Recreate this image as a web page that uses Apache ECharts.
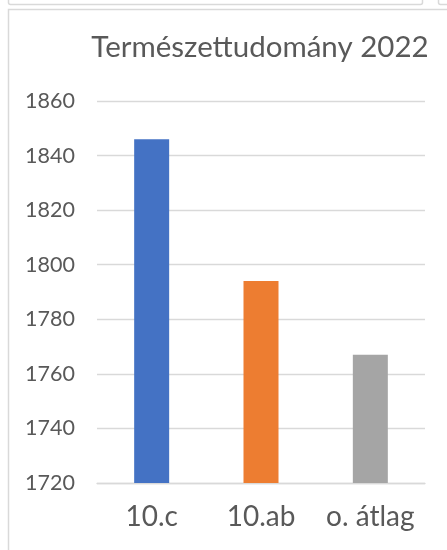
<!DOCTYPE html>
<html>
<head>
<meta charset="utf-8">
<script src="https://cdn.jsdelivr.net/npm/echarts@6/dist/echarts.min.js"></script>
<style>
html,body{margin:0;padding:0;background:#fff;}
#main{width:447px;height:550px;}
</style>
</head>
<body>
<div id="main"></div>
<script>
const categories = ['10.c', '10.ab', 'o. átlag'];
const values = [1846, 1794, 1767];
const barColors = ['#4472c4', '#ed7d31', '#a5a5a5'];
const yTicks = [1720, 1740, 1760, 1780, 1800, 1820, 1840, 1860];
const titleText = 'Természettudomány 2022';

const chart = echarts.init(document.getElementById('main'), null, {renderer: 'canvas'});
const font = 'Lato';
chart.setOption({
  backgroundColor: '#ffffff',
  animation: false,
  title: {
    text: titleText,
    left: 255,
    top: 27,
    textAlign: 'center',
    textStyle: {fontFamily: font, fontSize: 29.5, fontWeight: 'normal', color: '#595959'}
  },
  grid: {left: 97, right: 22, top: 101, bottom: 67, containLabel: false},
  xAxis: {
    type: 'category',
    data: categories,
    axisLine: {show: true, lineStyle: {color: '#d9d9d9', width: 1.3}},
    axisTick: {show: false},
    axisLabel: {fontFamily: font, fontSize: 28, color: '#595959', margin: 20, interval: 0, hideOverlap: false}
  },
  yAxis: {
    type: 'value',
    min: yTicks[0],
    max: yTicks[yTicks.length - 1],
    interval: 20,
    axisLine: {show: false},
    axisTick: {show: false},
    splitLine: {lineStyle: {color: '#d9d9d9', width: 1.3}},
    axisLabel: {fontFamily: font, fontSize: 21.5, color: '#595959', margin: 22, formatter: v => String(v)}
  },
  series: [{
    type: 'bar',
    barWidth: 35,
    data: values.map((v, i) => ({value: v, itemStyle: {color: barColors[i]}}))
  }],
  graphic: [
    {type: 'rect', shape: {x: 8.5, y: 9.5, width: 460, height: 560}, style: {fill: 'none', stroke: '#d9d9d9', lineWidth: 1.5}, silent: true},
    {type: 'rect', shape: {x: 8.5, y: -20, width: 414, height: 24.5, r: 2}, style: {fill: 'none', stroke: '#d9d9d9', lineWidth: 1.5}, silent: true},
    {type: 'rect', shape: {x: 438.5, y: -20, width: 40, height: 24.5, r: 2}, style: {fill: 'none', stroke: '#d9d9d9', lineWidth: 1.5}, silent: true}
  ]
});
</script>
</body>
</html>
